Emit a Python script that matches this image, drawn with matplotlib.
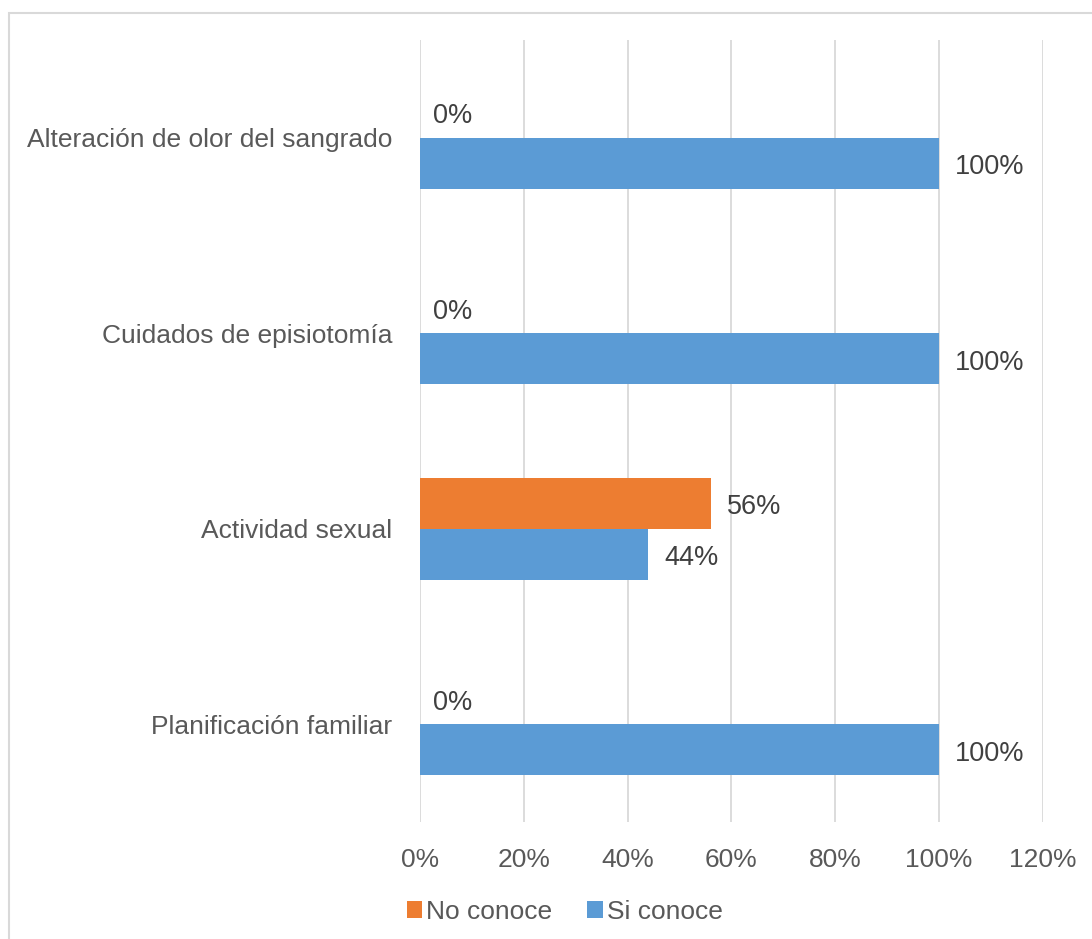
import numpy as np
import matplotlib.pyplot as plt
from matplotlib.patches import Rectangle

plt.rcParams['font.family'] = ['Liberation Sans', 'DejaVu Sans']

categorias = ['Planificación familiar', 'Actividad sexual',
              'Cuidados de episiotomía', 'Alteración de olor del sangrado']
no_conoce = [0, 56, 0, 0]
si_conoce = [100, 44, 100, 100]
ticks = [0, 20, 40, 60, 80, 100, 120]

naranja = '#ED7D31'
azul = '#5B9BD5'
gris_texto = '#595959'
gris_etiqueta = '#404040'
gris_linea = '#D9D9D9'

fig = plt.figure(figsize=(10.92, 9.39), dpi=100)
ax = fig.add_axes([0.3846, 0.1246, 0.5705, 0.8328])

y = np.arange(len(categorias))
h = 0.26
b1 = ax.barh(y + h / 2, no_conoce, height=h, color=naranja, label='No conoce', zorder=2)
b2 = ax.barh(y - h / 2, si_conoce, height=h, color=azul, label='Si conoce', zorder=2)

# etiquetas de valor
for bars, vals in ((b1, no_conoce), (b2, si_conoce)):
    for bar, v in zip(bars, vals):
        ax.annotate(f'{v}%', (v, bar.get_y() + bar.get_height() / 2),
                    xytext=(13 if v == 0 else 16, -4), textcoords='offset pixels',
                    va='center', ha='left', fontsize=19.5, color=gris_etiqueta)

ax.set_xlim(0, 120)
ax.set_ylim(-0.5, len(categorias) - 0.5)
ax.set_xticks(ticks)
ax.set_xticklabels([f'{t}%' for t in ticks])
ax.set_yticks(y)
ax.set_yticklabels(categorias)
ax.tick_params(axis='both', length=0, labelsize=19, colors=gris_texto)
ax.tick_params(axis='y', pad=20)
ax.tick_params(axis='x', pad=19)
ax.grid(axis='x', color=gris_linea, linewidth=1.3, zorder=0)
for s in ax.spines.values():
    s.set_visible(False)

ax.legend(loc='center', bbox_to_anchor=(0.517, 0.029), ncol=2,
          bbox_transform=fig.transFigure, frameon=False, fontsize=19,
          labelcolor=gris_texto, handlelength=0.6, handleheight=0.6,
          handletextpad=0.15, columnspacing=1.3)

# marco exterior del gráfico
fig.patches.append(Rectangle((9 / 1092, -0.01), 1.0, 1 - 13 / 939 + 0.01,
                             transform=fig.transFigure, fill=False,
                             edgecolor=gris_linea, linewidth=1.5))

fig.savefig('out.png', dpi=100)
